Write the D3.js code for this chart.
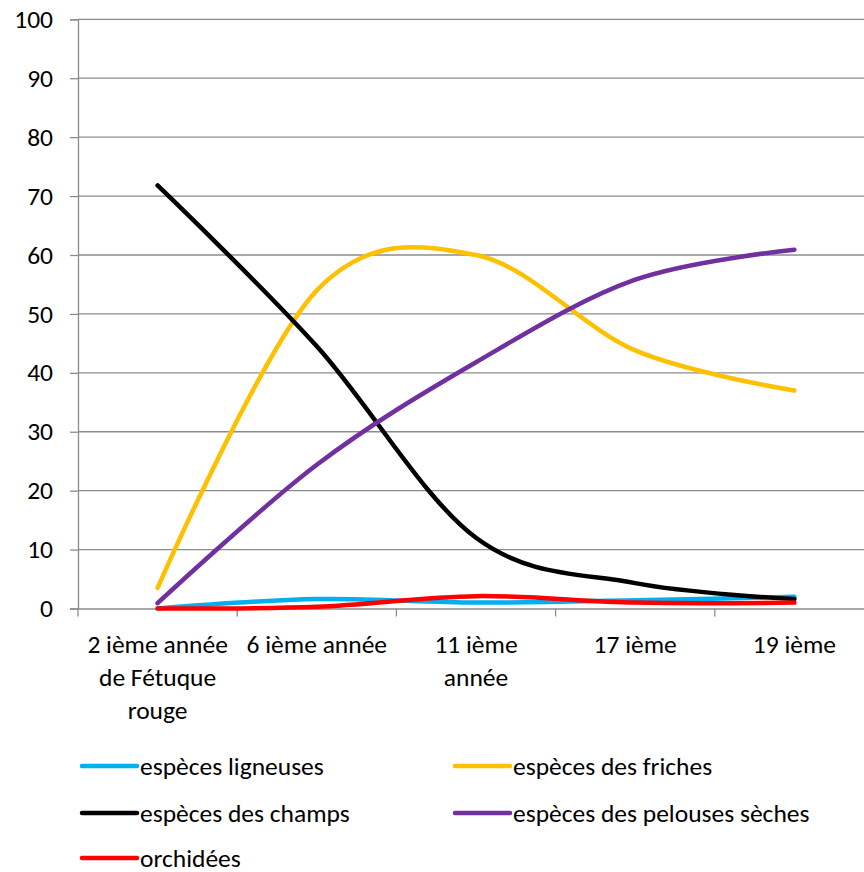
<!DOCTYPE html>
<html><head><meta charset="utf-8">
<script src="https://cdn.jsdelivr.net/npm/d3@7"></script>
<style>body{margin:0;background:#fff}svg{display:block}text{font-family:Carlito,Calibri,Lato,sans-serif;fill:#000}</style>
</head><body>
<script>
const categories = ["2 ième année de Fétuque rouge","6 ième année","11 ième année","17 ième","19 ième"];
const categoryLines = [["2 ième année","de Fétuque","rouge"],["6 ième année"],["11 ième","année"],["17 ième"],["19 ième"]];
const yTicks = [0,10,20,30,40,50,60,70,80,90,100];
const seriesNames = ["espèces ligneuses","espèces des friches","espèces des champs","espèces des pelouses sèches","orchidées"];
const seriesColors = ["#00B0F0","#FFC000","#000000","#7030A0","#FF0000"];
const ligneuses = [0, 1.6, 1.0, 1.4, 2.0];
const friches = [3.5, 54.0, 60.0, 43.8, 37.0];
const champs = [71.8, 44.5, 12.0, 4.3, 1.6];
const pelouses = [0.9, 24.4, 41.8, 55.8, 60.9];
const orchidees = [0, 0.3, 2.1, 1.0, 1.0];
const seriesValues = [ligneuses, friches, champs, pelouses, orchidees];

const FS = 25.5;
const W = 864, H = 872;
const svg = d3.select("body").append("svg").attr("width", W).attr("height", H);
const mLeft = 78, mRight = 874, mTop = 19.3, mBottom = 608.5;
const x = d3.scaleBand().domain(categories).range([mLeft, mRight]);
const y = d3.scaleLinear().domain([0, 100]).range([mBottom, mTop]);

// gridlines
svg.append("g").selectAll("line").data(yTicks.filter(d => d > 0)).join("line")
  .attr("x1", mLeft).attr("x2", W).attr("y1", d => y(d)).attr("y2", d => y(d))
  .attr("stroke", "#8c8c8c").attr("stroke-width", 1.3);

// y axis
const yAxis = d3.axisLeft(y).tickValues(yTicks).tickSize(8).tickPadding(17);
const gy = svg.append("g").attr("transform", `translate(${mLeft},0)`).call(yAxis);
gy.select(".domain").attr("stroke", "#8c8c8c").attr("stroke-width", 1.3);
gy.selectAll(".tick line").attr("stroke", "#8c8c8c").attr("stroke-width", 1.3);
gy.selectAll(".tick text").attr("font-size", FS).attr("font-family", "Carlito,Calibri,Lato,sans-serif").attr("fill", "#000");

// x axis
const xAxis = d3.axisBottom(x).tickSize(0).tickFormat("");
const gx = svg.append("g").attr("transform", `translate(0,${mBottom})`).call(xAxis);
gx.select(".domain").attr("stroke", "#8c8c8c").attr("stroke-width", 1.3);
gx.selectAll(".tick line").remove();
const bounds = categories.map(c => x(c)).concat([x(categories[categories.length-1]) + x.bandwidth()]);
svg.append("g").selectAll("line").data(bounds).join("line")
  .attr("x1", d => d).attr("x2", d => d).attr("y1", mBottom).attr("y2", mBottom + 8)
  .attr("stroke", "#8c8c8c").attr("stroke-width", 1.3);
const xl = svg.append("g").selectAll("text").data(categories).join("text")
  .attr("text-anchor", "middle").attr("font-size", FS)
  .attr("transform", d => `translate(${x(d) + x.bandwidth()/2},${mBottom + 44})`);
xl.each(function(d, i) {
  d3.select(this).selectAll("tspan").data(categoryLines[i]).join("tspan")
    .attr("x", 0).attr("y", (t, j) => j * 33).text(t => t);
});

// lines
const line = d3.line().x((d, i) => x(categories[i]) + x.bandwidth()/2).y(d => y(d)).curve(d3.curveCardinal.tension(0));
svg.append("g").selectAll("path").data(seriesValues).join("path")
  .attr("d", d => line(d)).attr("fill", "none")
  .attr("stroke", (d, i) => seriesColors[i]).attr("stroke-width", 4.5)
  .attr("stroke-linecap", "round").attr("stroke-linejoin", "round");

// legend
const legPos = [[82, 766], [455, 766], [82, 813], [455, 813], [82, 858]];
const lg = svg.append("g").selectAll("g").data(seriesNames).join("g")
  .attr("transform", (d, i) => `translate(${legPos[i][0]},${legPos[i][1]})`);
lg.append("line").attr("x1", 0).attr("x2", 55).attr("y1", 0).attr("y2", 0)
  .attr("stroke", (d, i) => seriesColors[i]).attr("stroke-width", 4.5).attr("stroke-linecap", "round");
lg.append("text").attr("x", 58).attr("y", 8.5).attr("font-size", FS).text(d => d);
</script>
</body></html>
